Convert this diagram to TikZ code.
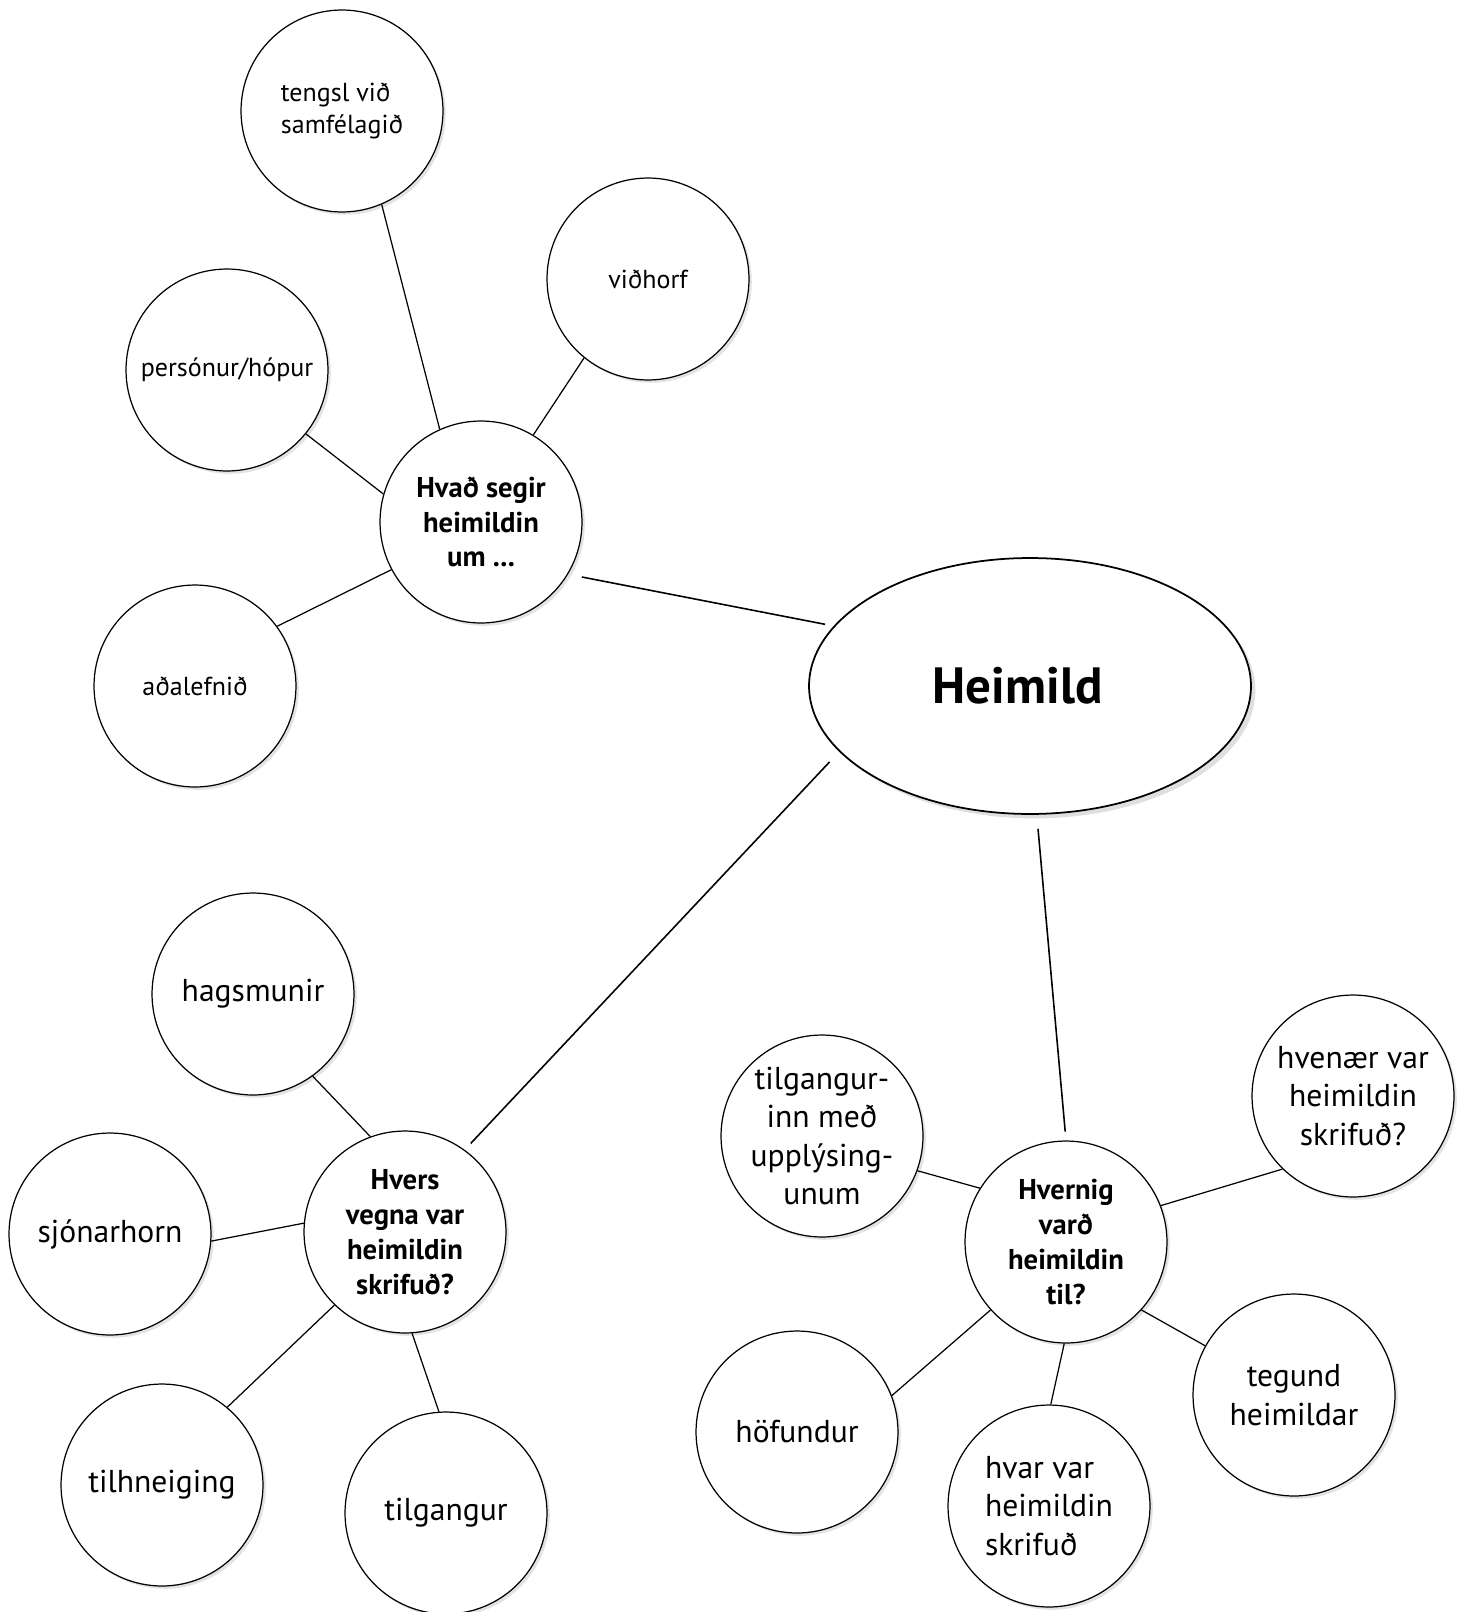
\documentclass[tikz,border=0pt]{standalone}
\usepackage{fontspec}
\setmainfont{PT Sans}
\usetikzlibrary{shapes.geometric, shadows}
\tikzset{%
	bubble/.style={draw, circle, minimum size=4.04cm, inner sep=0mm, fill=white, line width=0.7pt,%
		drop shadow={shadow xshift=1.6pt, shadow yshift=-1.6pt, opacity=0.22}},
	small/.style={font=\fontsize{14.8}{18.7}\selectfont},
	large/.style={font=\fontsize{18}{21.8}\selectfont},
	hub/.style={bubble, font=\fontsize{16.3}{19.8}\selectfont\bfseries},
	main/.style={draw, ellipse, minimum width=8.84cm, minimum height=5.12cm, fill=white,%
		line width=1pt, font=\fontsize{29}{33}\selectfont\bfseries,%
		drop shadow={shadow xshift=2.5pt, shadow yshift=-2.5pt, opacity=0.25}},
	link/.style={line width=0.7pt},
	trunk/.style={line width=0.9pt, shorten <=8pt, shorten >=5pt}
}
\begin{document}
\begin{tikzpicture}[x=0.02cm, y=-0.02cm]
	\useasboundingbox (0,0) rectangle (1467,1612);
	% upper group
	\node[bubble, small, align=left] (tengsl) at (342,111) {tengsl við\\samfélagið};
	\node[bubble, small] (vidhorf) at (648,279) {viðhorf};
	\node[bubble, small] (personur) at (227,370) {persónur/hópur};
	\node[bubble, small] (adalefni) at (195,686) {aðalefnið};
	\node[hub, align=center] (hvad) at (481,522) {Hvað segir\\heimildin\\um ...};
	% main
	\node[main] (heimild) at (1030,686) {Heimild\hspace*{14pt}};
	% lower left group
	\node[bubble, large] (hagsmunir) at (253,994) {hagsmunir};
	\node[bubble, large] (sjonarhorn) at (110,1234) {sjónarhorn};
	\node[bubble, large] (tilhneiging) at (162,1485) {tilhneiging};
	\node[bubble, large] (tilgangur) at (446,1513) {tilgangur};
	\node[hub, align=center] (hvers) at (405,1232) {Hvers\\vegna var\\heimildin\\skrifuð?};
	% lower right group
	\node[bubble, large, align=center] (upplys) at (822,1136) {tilgangur-\\inn með\\upplýsing-\\unum};
	\node[bubble, large, align=center] (hvenaer) at (1353,1096) {hvenær var\\heimildin\\skrifuð?};
	\node[bubble, large, align=center] (tegund) at (1294,1395) {tegund\\heimildar};
	\node[bubble, large] (hofundur) at (797,1432) {höfundur};
	\node[bubble, large, align=left] (hvar) at (1049,1506) {hvar var\\heimildin\\skrifuð};
	\node[hub, align=center] (hvernig) at (1066,1242) {Hvernig\\varð\\heimildin\\til?};

	\draw [link] (tengsl.-67) -- (hvad.114);
	\draw [link] (vidhorf.-129) -- (hvad.59);
	\draw [link] (personur.-39) -- (hvad.164);
	\draw [link] (adalefni.36) -- (hvad.-152);
	\draw [trunk] (hvad.-31) -- (heimild.163);
	\draw [trunk] (heimild.-161) -- (hvers.54);
	\draw [trunk] (heimild.-87) -- (hvernig.90);
	\draw [link] (hagsmunir.-54) -- (hvers.110);
	\draw [link] (sjonarhorn.-4) -- (hvers.175);
	\draw [link] (tilhneiging.50) -- (hvers.-134);
	\draw [link] (tilgangur.94) -- (hvers.-86);
	\draw [link] (upplys.-20) -- (hvernig.148);
	\draw [link] (hvenaer.-134) -- (hvernig.21);
	\draw [link] (tegund.151) -- (hvernig.-42);
	\draw [link] (hofundur.21) -- (hvernig.-138);
	\draw [link] (hvar.89) -- (hvernig.-91);
\end{tikzpicture}
\end{document}
